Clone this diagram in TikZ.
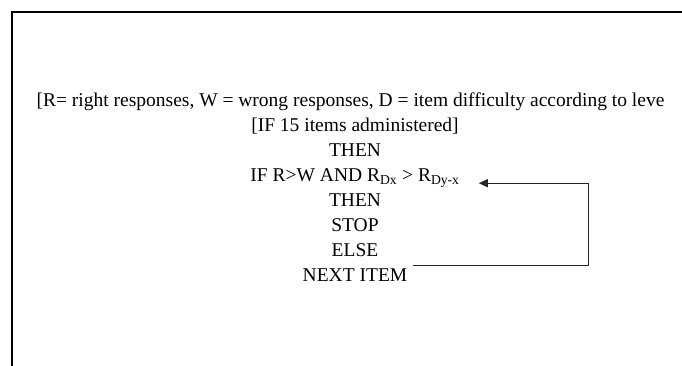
\documentclass[tikz,border=0pt]{standalone}
\usepackage{fontspec}
\setmainfont{Liberation Serif}
\usetikzlibrary{arrows.meta}
\tikzstyle{rule text}=[
        font = \fontsize{19.5}{23}\selectfont,
        inner sep = 6pt,
        text height = 13pt,
        text depth = 4pt
    ]
\tikzstyle{frame line}=[
    line width = 2.4pt,
    black
]
\tikzstyle{loop back}=[
    line width = 1.2pt,
    black!85,
    -{Triangle[length=9pt,width=8pt]}
]

\begin{document}
\begin{tikzpicture}[x=1pt, y=1pt, node distance={24.9pt}]
        \useasboundingbox (0,0) rectangle (682,366);
        \draw[frame line] (12,0) |- (682,354);

        \node[rule text] (key) at (350.5,263.5) {[R= right responses, W = wrong responses, D = item difficulty according to leve};
        \node[rule text] (count) [below of = key, xshift = 4.5pt] {[IF 15 items administered]};
        \node[rule text] (then1) [below of = count] {THEN};
        \node[rule text] (cond) [below of = then1] {IF R>W AND R\textsubscript{Dx} > R\textsubscript{Dy-x}};
        \node[rule text] (then2) [below of = cond] {THEN};
        \node[rule text] (stop) [below of = then2] {STOP};
        \node[rule text] (else) [below of = stop] {ELSE};
        \node[rule text] (next) [below of = else] {NEXT ITEM};

        \draw[loop back] ([yshift=11.5pt]next.east) -- ++(175,0) |- ([xshift=13pt,yshift=-6pt]cond.east);

    \end{tikzpicture}
\end{document}
